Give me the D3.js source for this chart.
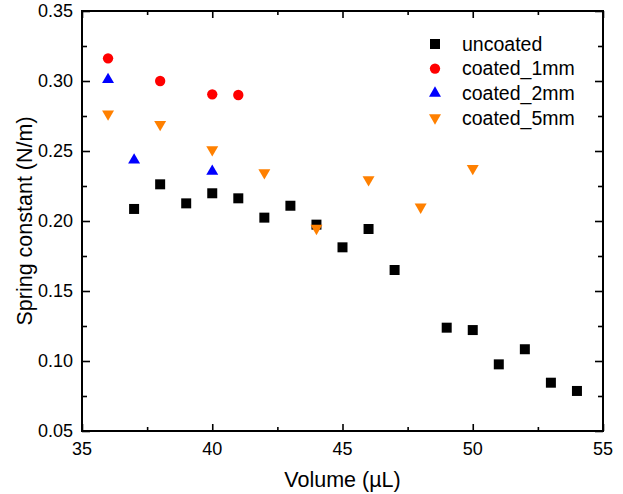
<!DOCTYPE html>
<html lang="en">
<head>
  <meta charset="UTF-8" />
  <title>Spring constant vs Volume</title>
  <style>
    body {
      margin: 0;
      background: white;
      font-family: "Liberation Sans", Arial, sans-serif;
    }
    svg {
      display: block;
      background: white;
    }
    .tick-label {
      font-size: 18px;
      fill: #000;
    }
    .axis-title {
      font-size: 21.5px;
      fill: #000;
    }
    .legend-text {
      font-size: 19.5px;
      fill: #000;
    }
  </style>
</head>
<body>
  <svg width="623" height="494"></svg>

  <script src="https://d3js.org/d3.v7.min.js"></script>
  <script>
    // data
    const uncoatedX = [37, 38, 39, 40, 41, 42, 43, 44, 45, 46, 47, 49, 50, 51, 52, 53, 54];
    const uncoatedY = [0.2086, 0.2262, 0.2126, 0.2198, 0.2162, 0.2024, 0.2109, 0.1974, 0.1812, 0.1943, 0.165, 0.1238, 0.1221, 0.0976, 0.1084, 0.0845, 0.0786];

    const coated1X = [36, 38, 40, 41];
    const coated1Y = [0.3162, 0.300, 0.2905, 0.2900];

    const coated2X = [36, 37, 40];
    const coated2Y = [0.301, 0.2435, 0.2355];

    const coated5X = [36, 38, 40, 42, 44, 46, 48, 50];
    const coated5Y = [0.2765, 0.2690, 0.2510, 0.2345, 0.1948, 0.2295, 0.2100, 0.2376];

    const seriesNames = ["uncoated", "coated_1mm", "coated_2mm", "coated_5mm"];
    const seriesColors = ["#000000", "#ff0000", "#0000ff", "#ff8000"];

    const xTicks = [35, 40, 45, 50, 55];
    const yTicks = [0.05, 0.10, 0.15, 0.20, 0.25, 0.30, 0.35];

    const svg = d3.select("svg");
    const margin = { top: 11, right: 20, bottom: 63, left: 82 };
    const width = 623, height = 494;
    const innerWidth = width - margin.left - margin.right;   // 521
    const innerHeight = height - margin.top - margin.bottom; // 420

    const x = d3.scaleLinear().domain([35, 55]).range([0, innerWidth]);
    const y = d3.scaleLinear().domain([0.05, 0.35]).range([innerHeight, 0]);

    const g = svg.append("g")
      .attr("transform", `translate(${margin.left},${margin.top})`);

    const xMinor = d3.range(37.5, 55, 5);
    const yMinor = d3.range(0.075, 0.35, 0.05);

    // axes with inward ticks on all four sides, labels drawn separately
    const axisStyle = sel => {
      sel.select(".domain").remove();
      sel.selectAll("text").remove();
      sel.selectAll("line").attr("stroke", "#000").attr("stroke-width", 1.6);
    };

    g.append("g").attr("transform", `translate(0,${innerHeight})`)
      .call(d3.axisBottom(x).tickValues(xTicks).tickSize(-7))
      .call(axisStyle);
    g.append("g").attr("transform", `translate(0,${innerHeight})`)
      .call(d3.axisBottom(x).tickValues(xMinor).tickSize(-4))
      .call(axisStyle);
    g.append("g")
      .call(d3.axisTop(x).tickValues(xTicks).tickSize(-7))
      .call(axisStyle);
    g.append("g")
      .call(d3.axisTop(x).tickValues(xMinor).tickSize(-4))
      .call(axisStyle);
    g.append("g")
      .call(d3.axisLeft(y).tickValues(yTicks).tickSize(-8))
      .call(axisStyle);
    g.append("g")
      .call(d3.axisLeft(y).tickValues(yMinor).tickSize(-5))
      .call(axisStyle);
    g.append("g").attr("transform", `translate(${innerWidth},0)`)
      .call(d3.axisRight(y).tickValues(yTicks).tickSize(-8))
      .call(axisStyle);
    g.append("g").attr("transform", `translate(${innerWidth},0)`)
      .call(d3.axisRight(y).tickValues(yMinor).tickSize(-5))
      .call(axisStyle);

    // frame
    g.append("rect")
      .attr("width", innerWidth)
      .attr("height", innerHeight)
      .attr("fill", "none")
      .attr("stroke", "#000")
      .attr("stroke-width", 2);

    // tick labels
    g.selectAll(".xlab")
      .data(xTicks)
      .join("text")
      .attr("class", "tick-label xlab")
      .attr("x", d => x(d))
      .attr("y", innerHeight + 24)
      .attr("text-anchor", "middle")
      .text(d => d);

    g.selectAll(".ylab")
      .data(yTicks)
      .join("text")
      .attr("class", "tick-label ylab")
      .attr("x", -9)
      .attr("y", d => y(d))
      .attr("dy", "0.35em")
      .attr("text-anchor", "end")
      .text(d => d.toFixed(2));

    // axis titles
    g.append("text")
      .attr("class", "axis-title")
      .attr("x", innerWidth / 2)
      .attr("y", innerHeight + 56)
      .attr("text-anchor", "middle")
      .text("Volume (\u00b5L)");

    g.append("text")
      .attr("class", "axis-title")
      .attr("transform", `translate(${-58},${innerHeight / 2}) rotate(-90)`)
      .attr("dy", "0.35em")
      .attr("text-anchor", "middle")
      .text("Spring constant (N/m)");

    // symbols
    const shapes = [
      d3.symbol().type(d3.symbolSquare).size(100),
      d3.symbol().type(d3.symbolCircle).size(84),
      d3.symbol().type(d3.symbolTriangle).size(62),
      d3.symbol().type(d3.symbolTriangle).size(62)
    ];
    const rotations = [0, 0, 0, 180];

    const series = [
      { xs: uncoatedX, ys: uncoatedY },
      { xs: coated1X, ys: coated1Y },
      { xs: coated2X, ys: coated2Y },
      { xs: coated5X, ys: coated5Y }
    ];

    series.forEach((s, i) => {
      const pts = s.xs.map((v, j) => [v, s.ys[j]]);
      g.append("g").selectAll("path")
        .data(pts)
        .join("path")
        .attr("d", shapes[i])
        .attr("fill", seriesColors[i])
        .attr("transform", d => `translate(${x(d[0])},${y(d[1])}) rotate(${rotations[i]})`);
    });

    // legend
    const legend = svg.append("g").attr("transform", "translate(435,44)");
    seriesNames.forEach((name, i) => {
      const row = legend.append("g").attr("transform", `translate(0,${i * 24.6})`);
      row.append("path")
        .attr("d", shapes[i])
        .attr("fill", seriesColors[i])
        .attr("transform", `rotate(${rotations[i]})`);
      row.append("text")
        .attr("class", "legend-text")
        .attr("x", 27)
        .attr("dy", "0.35em")
        .text(name);
    });
  </script>
</body>
</html>
